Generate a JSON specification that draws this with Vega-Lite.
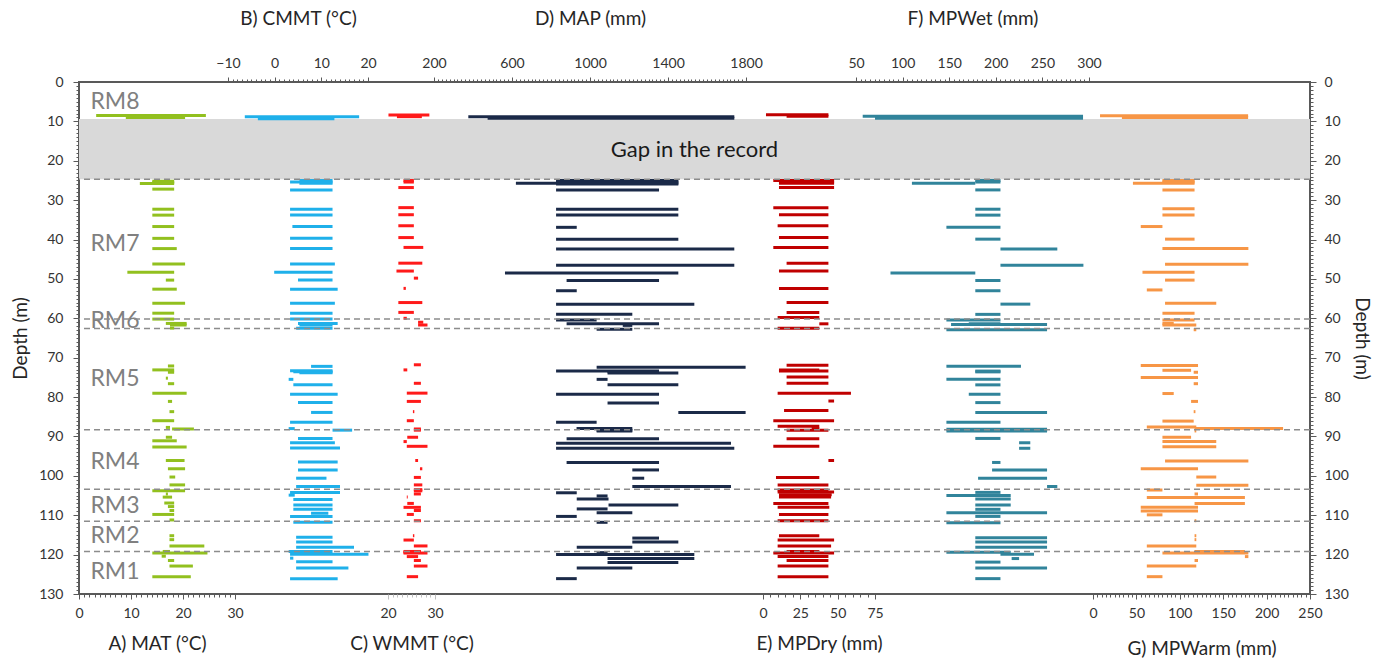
{
  "$schema": "https://vega.github.io/schema/vega-lite/v6.json",
  "width": 1231,
  "height": 512,
  "autosize": {"type": "none"},
  "padding": {"left": 79, "top": 82, "right": 64, "bottom": 65},
  "config": {
    "view": {"stroke": "#595959", "strokeWidth": 2},
    "font": "Lato",
    "axis": {
      "labelFont": "Lato", "titleFont": "Lato", "labelFontSize": 14, "titleFontSize": 19,
      "labelColor": "#333333", "titleColor": "#262626", "titleFontWeight": "normal",
      "grid": false, "domain": false, "tickColor": "#595959", "labelOverlap": false,
      "labelFlush": false, "labelBound": false, "format": "d"
    }
  },
  "datasets": {
    "MAT": [
      {"d": 8.5, "lo": 3.3, "hi": 24.4}, {"d": 9.0, "lo": 9.0, "hi": 20.4},
      {"d": 25.2, "lo": 14.1, "hi": 18.3}, {"d": 25.5, "lo": 14.1, "hi": 18.3}, {"d": 25.8, "lo": 11.7, "hi": 18.3},
      {"d": 27.2, "lo": 14.1, "hi": 18.3}, {"d": 32.3, "lo": 14.1, "hi": 18.3}, {"d": 33.8, "lo": 14.1, "hi": 18.3},
      {"d": 36.7, "lo": 14.1, "hi": 18.3}, {"d": 39.7, "lo": 14.1, "hi": 18.3}, {"d": 42.3, "lo": 14.1, "hi": 18.8},
      {"d": 46.2, "lo": 14.1, "hi": 20.4}, {"d": 48.3, "lo": 9.3, "hi": 18.3}, {"d": 50.3, "lo": 16.7, "hi": 18.3},
      {"d": 52.6, "lo": 14.1, "hi": 18.8}, {"d": 56.2, "lo": 14.1, "hi": 20.4}, {"d": 58.7, "lo": 14.1, "hi": 18.3},
      {"d": 60.2, "lo": 14.1, "hi": 18.3}, {"d": 61.3, "lo": 16.7, "hi": 20.7}, {"d": 61.7, "lo": 17.5, "hi": 20.7},
      {"d": 62.5, "lo": 17.5, "hi": 18.3},
      {"d": 72.1, "lo": 17.1, "hi": 18.3}, {"d": 73.1, "lo": 14.1, "hi": 18.3}, {"d": 73.7, "lo": 17.1, "hi": 18.3},
      {"d": 75.2, "lo": 16.7, "hi": 17.1}, {"d": 76.6, "lo": 17.1, "hi": 18.3}, {"d": 79.0, "lo": 14.1, "hi": 20.7},
      {"d": 81.1, "lo": 17.1, "hi": 17.9}, {"d": 83.7, "lo": 17.4, "hi": 18.3}, {"d": 86.0, "lo": 14.1, "hi": 18.3},
      {"d": 87.7, "lo": 16.7, "hi": 17.5}, {"d": 88.1, "lo": 17.9, "hi": 22.1}, {"d": 90.2, "lo": 16.7, "hi": 17.9},
      {"d": 91.1, "lo": 14.1, "hi": 18.8}, {"d": 92.7, "lo": 14.1, "hi": 20.7}, {"d": 96.1, "lo": 16.7, "hi": 20.3},
      {"d": 98.2, "lo": 17.1, "hi": 20.4}, {"d": 100.3, "lo": 17.4, "hi": 18.5}, {"d": 102.3, "lo": 17.4, "hi": 20.4},
      {"d": 103.8, "lo": 14.1, "hi": 20.4}, {"d": 104.6, "lo": 16.7, "hi": 17.1}, {"d": 105.4, "lo": 16.1, "hi": 17.9},
      {"d": 106.9, "lo": 16.4, "hi": 18.3}, {"d": 107.8, "lo": 17.1, "hi": 18.3}, {"d": 108.8, "lo": 17.4, "hi": 18.3},
      {"d": 109.8, "lo": 14.1, "hi": 18.3}, {"d": 111.2, "lo": 17.4, "hi": 18.3}, {"d": 115.2, "lo": 17.4, "hi": 18.3},
      {"d": 116.2, "lo": 17.4, "hi": 18.3}, {"d": 117.8, "lo": 17.4, "hi": 24.1}, {"d": 119.2, "lo": 16.1, "hi": 17.5},
      {"d": 119.6, "lo": 14.1, "hi": 24.7}, {"d": 120.4, "lo": 15.9, "hi": 16.7}, {"d": 121.5, "lo": 17.1, "hi": 18.3},
      {"d": 122.9, "lo": 17.4, "hi": 21.9}, {"d": 125.6, "lo": 14.1, "hi": 21.5}
    ],
    "CMMT": [
      {"d": 8.8, "lo": -6.4, "hi": 18.1}, {"d": 9.3, "lo": -3.6, "hi": 12.8},
      {"d": 25.0, "lo": 5.3, "hi": 12.4}, {"d": 25.4, "lo": 3.3, "hi": 12.4}, {"d": 25.7, "lo": 5.3, "hi": 12.4},
      {"d": 27.4, "lo": 3.3, "hi": 12.4}, {"d": 32.3, "lo": 3.3, "hi": 12.4}, {"d": 33.8, "lo": 3.3, "hi": 12.4},
      {"d": 36.7, "lo": 3.8, "hi": 12.4}, {"d": 39.7, "lo": 3.3, "hi": 12.4}, {"d": 42.3, "lo": 3.3, "hi": 12.4},
      {"d": 46.2, "lo": 3.3, "hi": 12.9}, {"d": 48.3, "lo": -0.1, "hi": 12.4}, {"d": 50.3, "lo": 5.0, "hi": 12.4},
      {"d": 52.6, "lo": 3.3, "hi": 13.5}, {"d": 56.2, "lo": 3.3, "hi": 12.9}, {"d": 58.7, "lo": 3.3, "hi": 12.4},
      {"d": 60.2, "lo": 3.3, "hi": 12.4}, {"d": 61.3, "lo": 5.0, "hi": 13.5}, {"d": 61.7, "lo": 5.3, "hi": 12.4},
      {"d": 62.5, "lo": 4.6, "hi": 12.4},
      {"d": 72.2, "lo": 7.8, "hi": 12.4}, {"d": 73.3, "lo": 3.3, "hi": 12.4}, {"d": 73.6, "lo": 4.0, "hi": 12.4},
      {"d": 73.8, "lo": 5.3, "hi": 12.4}, {"d": 75.5, "lo": 3.0, "hi": 4.0}, {"d": 76.9, "lo": 4.0, "hi": 12.4},
      {"d": 79.3, "lo": 3.3, "hi": 13.5}, {"d": 81.4, "lo": 5.0, "hi": 12.4}, {"d": 83.9, "lo": 7.8, "hi": 12.4},
      {"d": 86.4, "lo": 3.3, "hi": 12.4}, {"d": 88.0, "lo": 3.0, "hi": 4.3}, {"d": 88.4, "lo": 12.4, "hi": 16.6},
      {"d": 90.5, "lo": 5.0, "hi": 12.4}, {"d": 91.6, "lo": 3.3, "hi": 12.9}, {"d": 92.9, "lo": 3.3, "hi": 14.0},
      {"d": 96.5, "lo": 5.0, "hi": 13.5}, {"d": 98.5, "lo": 5.0, "hi": 13.5}, {"d": 100.6, "lo": 4.6, "hi": 11.1},
      {"d": 102.7, "lo": 4.6, "hi": 14.0}, {"d": 104.2, "lo": 3.3, "hi": 14.0}, {"d": 104.9, "lo": 3.0, "hi": 4.3},
      {"d": 106.0, "lo": 4.0, "hi": 12.4}, {"d": 107.4, "lo": 4.0, "hi": 12.4}, {"d": 108.5, "lo": 4.0, "hi": 12.4},
      {"d": 109.5, "lo": 7.8, "hi": 11.5}, {"d": 110.3, "lo": 3.3, "hi": 12.4}, {"d": 111.8, "lo": 4.0, "hi": 12.4},
      {"d": 115.6, "lo": 4.6, "hi": 12.4}, {"d": 116.8, "lo": 4.6, "hi": 12.4}, {"d": 118.1, "lo": 4.6, "hi": 17.0},
      {"d": 119.2, "lo": 3.0, "hi": 12.4}, {"d": 119.9, "lo": 3.3, "hi": 20.1}, {"d": 120.9, "lo": 3.3, "hi": 4.0},
      {"d": 121.8, "lo": 4.6, "hi": 12.4}, {"d": 123.4, "lo": 4.6, "hi": 15.8}, {"d": 126.1, "lo": 3.3, "hi": 13.5}
    ],
    "WMMT": [
      {"d": 8.4, "lo": 20.1, "hi": 28.8}, {"d": 8.8, "lo": 21.9, "hi": 27.2},
      {"d": 25.0, "lo": 23.3, "hi": 25.5}, {"d": 25.4, "lo": 23.3, "hi": 25.5}, {"d": 26.8, "lo": 22.2, "hi": 25.5},
      {"d": 31.9, "lo": 22.2, "hi": 25.5}, {"d": 33.7, "lo": 22.2, "hi": 25.5}, {"d": 36.5, "lo": 22.2, "hi": 25.5},
      {"d": 39.5, "lo": 22.2, "hi": 25.5}, {"d": 42.0, "lo": 23.3, "hi": 27.5}, {"d": 46.0, "lo": 22.2, "hi": 27.3},
      {"d": 48.0, "lo": 21.8, "hi": 25.5}, {"d": 49.8, "lo": 25.5, "hi": 26.4}, {"d": 52.4, "lo": 23.3, "hi": 23.8},
      {"d": 56.0, "lo": 22.2, "hi": 27.3}, {"d": 58.5, "lo": 22.2, "hi": 25.5}, {"d": 60.0, "lo": 23.3, "hi": 24.0},
      {"d": 61.0, "lo": 26.4, "hi": 27.5}, {"d": 61.7, "lo": 26.4, "hi": 28.4},
      {"d": 71.8, "lo": 25.5, "hi": 27.0}, {"d": 73.1, "lo": 23.3, "hi": 24.1}, {"d": 76.5, "lo": 25.5, "hi": 27.0},
      {"d": 79.0, "lo": 24.0, "hi": 28.4}, {"d": 81.1, "lo": 24.0, "hi": 27.0}, {"d": 83.7, "lo": 25.3, "hi": 25.6},
      {"d": 86.0, "lo": 24.0, "hi": 25.5}, {"d": 88.1, "lo": 25.5, "hi": 27.0}, {"d": 88.4, "lo": 25.5, "hi": 27.0},
      {"d": 90.2, "lo": 24.1, "hi": 26.4}, {"d": 91.3, "lo": 23.3, "hi": 24.0}, {"d": 92.5, "lo": 24.0, "hi": 28.4},
      {"d": 96.1, "lo": 25.8, "hi": 26.4}, {"d": 98.2, "lo": 26.8, "hi": 27.3}, {"d": 100.4, "lo": 25.5, "hi": 27.0},
      {"d": 102.3, "lo": 25.5, "hi": 27.3}, {"d": 103.5, "lo": 25.5, "hi": 27.3}, {"d": 103.8, "lo": 25.5, "hi": 27.3},
      {"d": 104.6, "lo": 25.5, "hi": 27.0}, {"d": 105.4, "lo": 24.0, "hi": 24.2}, {"d": 107.0, "lo": 24.1, "hi": 25.5},
      {"d": 108.0, "lo": 23.3, "hi": 27.0}, {"d": 108.8, "lo": 25.5, "hi": 27.0}, {"d": 109.8, "lo": 24.0, "hi": 25.5},
      {"d": 111.4, "lo": 25.5, "hi": 27.0}, {"d": 115.2, "lo": 25.3, "hi": 25.6}, {"d": 116.3, "lo": 23.3, "hi": 25.5},
      {"d": 117.8, "lo": 25.5, "hi": 28.4}, {"d": 119.2, "lo": 23.3, "hi": 27.0}, {"d": 119.4, "lo": 23.3, "hi": 27.0},
      {"d": 119.6, "lo": 23.3, "hi": 28.4}, {"d": 120.5, "lo": 24.0, "hi": 26.4}, {"d": 121.5, "lo": 25.5, "hi": 27.0},
      {"d": 122.9, "lo": 25.5, "hi": 28.4}, {"d": 125.6, "lo": 24.0, "hi": 26.4}
    ],
    "MAP": [
      {"d": 8.8, "lo": 376, "hi": 1740}, {"d": 9.2, "lo": 475, "hi": 1740},
      {"d": 25.0, "lo": 826, "hi": 1453}, {"d": 25.4, "lo": 826, "hi": 1453}, {"d": 25.7, "lo": 620, "hi": 1453},
      {"d": 25.9, "lo": 826, "hi": 1453},
      {"d": 27.4, "lo": 826, "hi": 1354}, {"d": 32.3, "lo": 826, "hi": 1453}, {"d": 33.8, "lo": 826, "hi": 1453},
      {"d": 36.9, "lo": 826, "hi": 932}, {"d": 39.9, "lo": 826, "hi": 1453}, {"d": 42.4, "lo": 826, "hi": 1740},
      {"d": 46.5, "lo": 826, "hi": 1740}, {"d": 48.5, "lo": 564, "hi": 1453}, {"d": 50.4, "lo": 880, "hi": 1354},
      {"d": 53.0, "lo": 826, "hi": 932}, {"d": 56.4, "lo": 826, "hi": 1535}, {"d": 59.0, "lo": 826, "hi": 1217},
      {"d": 60.4, "lo": 826, "hi": 1034}, {"d": 61.4, "lo": 880, "hi": 1354}, {"d": 61.8, "lo": 1168, "hi": 1217},
      {"d": 62.8, "lo": 1034, "hi": 1217},
      {"d": 72.4, "lo": 1034, "hi": 1798}, {"d": 73.4, "lo": 826, "hi": 1354}, {"d": 73.6, "lo": 1090, "hi": 1354},
      {"d": 73.9, "lo": 1090, "hi": 1453}, {"d": 75.5, "lo": 1034, "hi": 1090}, {"d": 76.9, "lo": 1090, "hi": 1453},
      {"d": 79.3, "lo": 826, "hi": 1354}, {"d": 81.5, "lo": 1090, "hi": 1354}, {"d": 83.9, "lo": 1453, "hi": 1798},
      {"d": 86.4, "lo": 826, "hi": 1034}, {"d": 88.0, "lo": 931, "hi": 1217}, {"d": 88.4, "lo": 1034, "hi": 1217},
      {"d": 88.6, "lo": 1034, "hi": 1217}, {"d": 90.6, "lo": 880, "hi": 1354}, {"d": 91.7, "lo": 826, "hi": 1723},
      {"d": 93.0, "lo": 826, "hi": 1740}, {"d": 96.6, "lo": 880, "hi": 1354}, {"d": 98.5, "lo": 1217, "hi": 1354},
      {"d": 100.6, "lo": 1217, "hi": 1278}, {"d": 102.7, "lo": 1217, "hi": 1723}, {"d": 104.3, "lo": 826, "hi": 932},
      {"d": 105.1, "lo": 1034, "hi": 1090}, {"d": 105.9, "lo": 932, "hi": 1095}, {"d": 107.4, "lo": 1095, "hi": 1453},
      {"d": 108.4, "lo": 932, "hi": 1090}, {"d": 109.4, "lo": 1034, "hi": 1217}, {"d": 110.3, "lo": 826, "hi": 932},
      {"d": 111.8, "lo": 1034, "hi": 1090}, {"d": 115.8, "lo": 1217, "hi": 1354}, {"d": 116.8, "lo": 1217, "hi": 1453},
      {"d": 118.1, "lo": 932, "hi": 1217}, {"d": 119.5, "lo": 1034, "hi": 1090}, {"d": 120.0, "lo": 826, "hi": 1535},
      {"d": 121.0, "lo": 1090, "hi": 1535}, {"d": 122.0, "lo": 1090, "hi": 1453}, {"d": 123.4, "lo": 932, "hi": 1217},
      {"d": 126.1, "lo": 826, "hi": 932}
    ],
    "MPDry": [
      {"d": 8.3, "lo": 2.0, "hi": 43.8}, {"d": 8.7, "lo": 15.8, "hi": 43.8},
      {"d": 25.0, "lo": 6.9, "hi": 47.6}, {"d": 25.4, "lo": 10.7, "hi": 47.6}, {"d": 25.7, "lo": 10.7, "hi": 47.6},
      {"d": 26.8, "lo": 10.7, "hi": 47.6}, {"d": 31.9, "lo": 6.9, "hi": 43.8}, {"d": 33.7, "lo": 10.7, "hi": 43.8},
      {"d": 36.5, "lo": 9.8, "hi": 43.8}, {"d": 39.5, "lo": 10.7, "hi": 43.8}, {"d": 42.0, "lo": 6.9, "hi": 43.8},
      {"d": 46.0, "lo": 15.8, "hi": 43.8}, {"d": 48.0, "lo": 10.7, "hi": 43.8}, {"d": 52.4, "lo": 10.7, "hi": 43.8},
      {"d": 56.0, "lo": 15.8, "hi": 43.8}, {"d": 58.5, "lo": 15.8, "hi": 37.7}, {"d": 59.8, "lo": 9.8, "hi": 37.7},
      {"d": 61.4, "lo": 37.7, "hi": 43.8}, {"d": 62.5, "lo": 9.8, "hi": 37.7},
      {"d": 71.9, "lo": 15.8, "hi": 43.8}, {"d": 73.1, "lo": 10.7, "hi": 37.7}, {"d": 73.4, "lo": 10.7, "hi": 43.8},
      {"d": 74.9, "lo": 15.8, "hi": 43.8}, {"d": 76.5, "lo": 15.8, "hi": 43.8}, {"d": 79.0, "lo": 9.8, "hi": 58.9},
      {"d": 81.0, "lo": 43.8, "hi": 47.6}, {"d": 83.4, "lo": 14.1, "hi": 43.8}, {"d": 86.0, "lo": 6.9, "hi": 47.6},
      {"d": 87.4, "lo": 9.8, "hi": 37.7}, {"d": 88.0, "lo": 32.6, "hi": 37.7}, {"d": 88.4, "lo": 15.8, "hi": 43.8},
      {"d": 90.6, "lo": 15.8, "hi": 37.7}, {"d": 92.5, "lo": 6.9, "hi": 37.7}, {"d": 96.1, "lo": 43.8, "hi": 47.6},
      {"d": 100.4, "lo": 8.7, "hi": 37.7}, {"d": 102.3, "lo": 9.8, "hi": 43.8}, {"d": 103.6, "lo": 9.8, "hi": 43.8},
      {"d": 104.1, "lo": 9.8, "hi": 47.6}, {"d": 104.8, "lo": 10.7, "hi": 46.0}, {"d": 105.4, "lo": 10.7, "hi": 45.6},
      {"d": 107.0, "lo": 6.9, "hi": 43.8}, {"d": 108.0, "lo": 9.8, "hi": 44.4}, {"d": 109.8, "lo": 10.7, "hi": 43.8},
      {"d": 111.4, "lo": 9.8, "hi": 43.8}, {"d": 115.2, "lo": 10.7, "hi": 37.7}, {"d": 116.3, "lo": 9.8, "hi": 47.6},
      {"d": 117.8, "lo": 9.8, "hi": 45.6}, {"d": 119.2, "lo": 15.8, "hi": 37.7}, {"d": 119.6, "lo": 6.9, "hi": 47.6},
      {"d": 120.5, "lo": 9.8, "hi": 43.8}, {"d": 121.5, "lo": 15.8, "hi": 43.8}, {"d": 122.9, "lo": 9.8, "hi": 43.8},
      {"d": 125.6, "lo": 9.8, "hi": 43.8}
    ],
    "MPWet": [
      {"d": 8.7, "lo": 57.2, "hi": 293.6}, {"d": 9.2, "lo": 70.4, "hi": 293.6},
      {"d": 25.0, "lo": 178, "hi": 205}, {"d": 25.4, "lo": 178, "hi": 205}, {"d": 25.7, "lo": 110, "hi": 178},
      {"d": 27.4, "lo": 178, "hi": 205}, {"d": 32.3, "lo": 178, "hi": 205}, {"d": 33.8, "lo": 178, "hi": 205},
      {"d": 36.9, "lo": 147, "hi": 205}, {"d": 39.9, "lo": 178, "hi": 205}, {"d": 42.4, "lo": 205, "hi": 266},
      {"d": 46.5, "lo": 205, "hi": 294}, {"d": 48.5, "lo": 87, "hi": 178}, {"d": 50.4, "lo": 178, "hi": 205},
      {"d": 53.0, "lo": 178, "hi": 205}, {"d": 56.4, "lo": 205, "hi": 237}, {"d": 59.0, "lo": 178, "hi": 205},
      {"d": 60.4, "lo": 147, "hi": 205}, {"d": 61.4, "lo": 171, "hi": 205}, {"d": 61.6, "lo": 152, "hi": 255},
      {"d": 62.9, "lo": 147, "hi": 255},
      {"d": 72.2, "lo": 147, "hi": 227}, {"d": 73.4, "lo": 178, "hi": 205}, {"d": 73.6, "lo": 178, "hi": 205},
      {"d": 75.5, "lo": 147, "hi": 205}, {"d": 76.9, "lo": 178, "hi": 205}, {"d": 79.3, "lo": 171, "hi": 205},
      {"d": 81.4, "lo": 178, "hi": 205}, {"d": 83.9, "lo": 178, "hi": 255}, {"d": 86.4, "lo": 147, "hi": 205},
      {"d": 88.2, "lo": 147, "hi": 255}, {"d": 88.4, "lo": 178, "hi": 255}, {"d": 88.6, "lo": 147, "hi": 255},
      {"d": 90.5, "lo": 178, "hi": 205}, {"d": 91.6, "lo": 225, "hi": 237}, {"d": 93.0, "lo": 225, "hi": 237},
      {"d": 96.6, "lo": 196, "hi": 205}, {"d": 98.5, "lo": 196, "hi": 255}, {"d": 100.6, "lo": 181, "hi": 255},
      {"d": 102.7, "lo": 255, "hi": 266}, {"d": 104.2, "lo": 178, "hi": 205}, {"d": 105.0, "lo": 147, "hi": 216},
      {"d": 105.9, "lo": 178, "hi": 216}, {"d": 107.4, "lo": 178, "hi": 216}, {"d": 108.5, "lo": 178, "hi": 205},
      {"d": 109.4, "lo": 147, "hi": 255}, {"d": 110.3, "lo": 178, "hi": 205}, {"d": 111.9, "lo": 147, "hi": 205},
      {"d": 115.7, "lo": 178, "hi": 255}, {"d": 116.8, "lo": 178, "hi": 255}, {"d": 118.1, "lo": 178, "hi": 255},
      {"d": 119.4, "lo": 147, "hi": 216}, {"d": 119.9, "lo": 205, "hi": 241}, {"d": 121.0, "lo": 217, "hi": 225},
      {"d": 121.9, "lo": 178, "hi": 205}, {"d": 123.4, "lo": 178, "hi": 255}, {"d": 126.1, "lo": 178, "hi": 205}
    ],
    "MPWarm": [
      {"d": 8.6, "lo": 8.1, "hi": 178.7}, {"d": 9.0, "lo": 33.3, "hi": 178.7},
      {"d": 25.0, "lo": 80, "hi": 117}, {"d": 25.4, "lo": 80, "hi": 117}, {"d": 25.7, "lo": 46, "hi": 117},
      {"d": 27.4, "lo": 80, "hi": 117}, {"d": 32.2, "lo": 80, "hi": 117}, {"d": 33.8, "lo": 80, "hi": 117},
      {"d": 36.7, "lo": 55, "hi": 80}, {"d": 39.9, "lo": 83, "hi": 117}, {"d": 42.3, "lo": 80, "hi": 179},
      {"d": 46.3, "lo": 83, "hi": 179}, {"d": 48.3, "lo": 57, "hi": 117}, {"d": 50.3, "lo": 83, "hi": 117},
      {"d": 52.8, "lo": 62, "hi": 80}, {"d": 56.2, "lo": 83, "hi": 142}, {"d": 58.7, "lo": 80, "hi": 117},
      {"d": 60.4, "lo": 80, "hi": 117}, {"d": 61.3, "lo": 80, "hi": 93}, {"d": 61.7, "lo": 80, "hi": 119},
      {"d": 62.9, "lo": 116, "hi": 119},
      {"d": 72.0, "lo": 55, "hi": 121}, {"d": 73.2, "lo": 80, "hi": 113}, {"d": 73.7, "lo": 116, "hi": 121},
      {"d": 75.0, "lo": 55, "hi": 121}, {"d": 76.6, "lo": 116, "hi": 121}, {"d": 79.1, "lo": 80, "hi": 93},
      {"d": 81.1, "lo": 113, "hi": 121}, {"d": 83.7, "lo": 116, "hi": 118}, {"d": 86.1, "lo": 80, "hi": 116},
      {"d": 87.6, "lo": 62, "hi": 119}, {"d": 88.0, "lo": 117, "hi": 219}, {"d": 88.6, "lo": 117, "hi": 119},
      {"d": 90.2, "lo": 80, "hi": 113}, {"d": 91.3, "lo": 80, "hi": 142}, {"d": 92.6, "lo": 80, "hi": 142},
      {"d": 96.2, "lo": 83, "hi": 179}, {"d": 98.2, "lo": 55, "hi": 121}, {"d": 100.3, "lo": 119, "hi": 142},
      {"d": 102.4, "lo": 119, "hi": 179}, {"d": 103.6, "lo": 62, "hi": 80}, {"d": 104.6, "lo": 117, "hi": 121},
      {"d": 105.5, "lo": 62, "hi": 175}, {"d": 107.0, "lo": 117, "hi": 175}, {"d": 108.0, "lo": 55, "hi": 121},
      {"d": 108.9, "lo": 55, "hi": 121}, {"d": 109.9, "lo": 62, "hi": 80}, {"d": 111.4, "lo": 117, "hi": 119},
      {"d": 115.2, "lo": 117, "hi": 119}, {"d": 116.2, "lo": 117, "hi": 119}, {"d": 117.8, "lo": 62, "hi": 119},
      {"d": 119.2, "lo": 117, "hi": 175}, {"d": 119.6, "lo": 80, "hi": 179}, {"d": 120.5, "lo": 175, "hi": 179},
      {"d": 121.5, "lo": 117, "hi": 121}, {"d": 122.9, "lo": 62, "hi": 119}, {"d": 125.6, "lo": 62, "hi": 80}
    ]
  },
  "resolve": {"scale": {"x": "independent"}, "axis": {"x": "independent", "y": "independent"}},
  "layer": [
    {
      "data": {"values": [{"top": 9.4, "bottom": 24.7}]},
      "mark": {"type": "rect", "color": "#d9d9d9"},
      "encoding": {
        "y": {"field": "top", "type": "quantitative",
          "scale": {"domain": [0, 130], "reverse": true, "nice": false, "zero": false},
          "axis": {"orient": "left", "title": "Depth (m)", "tickCount": 130,
            "labelExpr": "datum.value % 10 === 0 ? datum.label : ''",
            "tickSize": {"condition": {"test": "datum.value % 10 === 0", "value": 6}, "value": 3},
            "labelPadding": 10, "titlePadding": 8}},
        "y2": {"field": "bottom"}
      }
    },
    {
      "data": {"values": [{"label": "Gap in the record", "d": 17.3}]},
      "mark": {"type": "text", "fontSize": 22, "color": "#1a1a1a", "baseline": "middle", "font": "Lato"},
      "encoding": {"y": {"field": "d", "type": "quantitative", "axis": null}, "text": {"field": "label"}}
    },
    {
      "data": {"values": [
        {"label": "RM8", "d": 5.0}, {"label": "RM7", "d": 41.2}, {"label": "RM6", "d": 60.6},
        {"label": "RM5", "d": 75.5}, {"label": "RM4", "d": 96.6}, {"label": "RM3", "d": 107.6},
        {"label": "RM2", "d": 115.3}, {"label": "RM1", "d": 124.3}
      ]},
      "mark": {"type": "text", "fontSize": 23, "color": "#808080", "align": "left", "baseline": "middle", "font": "Lato"},
      "encoding": {
        "y": {"field": "d", "type": "quantitative", "axis": null},
        "x": {"datum": 2.2, "type": "quantitative", "scale": {"domain": [0, 30], "range": [0, 156], "nice": false, "zero": false}, "axis": null},
        "text": {"field": "label"}
      }
    },
    {
      "data": {"name": "MAT"},
      "mark": {"type": "rule", "color": "#92c01f", "strokeWidth": 3},
      "encoding": {
        "y": {"field": "d", "type": "quantitative", "axis": null},
        "x": {"field": "lo", "type": "quantitative", "scale": {"domain": [0, 30], "range": [0, 156], "nice": false, "zero": false},
          "axis": {"orient": "bottom", "title": "A) MAT (°C)", "tickCount": 30,
            "labelExpr": "datum.value % 10 === 0 ? datum.label : ''",
            "tickSize": {"condition": {"test": "datum.value % 10 === 0", "value": 5}, "value": 3},
            "labelPadding": 7, "titlePadding": 14}},
        "x2": {"field": "hi"}
      }
    },
    {
      "data": {"name": "CMMT"},
      "mark": {"type": "rule", "color": "#1fb0ea", "strokeWidth": 3},
      "encoding": {
        "y": {"field": "d", "type": "quantitative", "axis": null},
        "x": {"field": "lo", "type": "quantitative", "scale": {"domain": [-10, 20], "range": [149, 289], "nice": false, "zero": false},
          "axis": {"orient": "top", "title": "B) CMMT (°C)", "tickCount": 30,
            "labelExpr": "datum.value % 10 === 0 ? datum.label : ''",
            "tickSize": {"condition": {"test": "datum.value % 10 === 0", "value": 5}, "value": 3},
            "labelPadding": 7, "titlePadding": 28}},
        "x2": {"field": "hi"}
      }
    },
    {
      "data": {"name": "WMMT"},
      "mark": {"type": "rule", "color": "#ff1a1a", "strokeWidth": 3},
      "encoding": {
        "y": {"field": "d", "type": "quantitative", "axis": null},
        "x": {"field": "lo", "type": "quantitative", "scale": {"domain": [20, 30], "range": [309, 356], "nice": false, "zero": false},
          "axis": {"orient": "bottom", "title": "C) WMMT (°C)", "tickCount": 10, "tickColor": "#bfbfbf",
            "labelExpr": "datum.value % 10 === 0 ? datum.label : ''",
            "tickSize": {"condition": {"test": "datum.value % 10 === 0", "value": 5}, "value": 3},
            "labelPadding": 7, "titlePadding": 14}},
        "x2": {"field": "hi"}
      }
    },
    {
      "data": {"name": "MAP"},
      "mark": {"type": "rule", "color": "#1b2a48", "strokeWidth": 3},
      "encoding": {
        "y": {"field": "d", "type": "quantitative", "axis": null},
        "x": {"field": "lo", "type": "quantitative", "scale": {"domain": [200, 1800], "range": [355, 667], "nice": false, "zero": false},
          "axis": {"orient": "top", "title": "D) MAP (mm)", "tickCount": 80,
            "labelExpr": "(datum.value - 200) % 400 === 0 ? datum.label : ''",
            "tickSize": {"condition": {"test": "(datum.value - 200) % 400 === 0", "value": 5}, "value": 3},
            "labelPadding": 7, "titlePadding": 28}},
        "x2": {"field": "hi"}
      }
    },
    {
      "data": {"name": "MPDry"},
      "mark": {"type": "rule", "color": "#c00000", "strokeWidth": 3},
      "encoding": {
        "y": {"field": "d", "type": "quantitative", "axis": null},
        "x": {"field": "lo", "type": "quantitative", "scale": {"domain": [0, 75], "range": [684, 796], "nice": false, "zero": false},
          "axis": {"orient": "bottom", "title": "E) MPDry (mm)", "tickCount": 15,
            "labelExpr": "datum.value % 25 === 0 ? datum.label : ''",
            "tickSize": {"condition": {"test": "datum.value % 25 === 0", "value": 5}, "value": 3},
            "labelPadding": 7, "titlePadding": 14}},
        "x2": {"field": "hi"}
      }
    },
    {
      "data": {"name": "MPWet"},
      "mark": {"type": "rule", "color": "#31849b", "strokeWidth": 3},
      "encoding": {
        "y": {"field": "d", "type": "quantitative", "axis": null},
        "x": {"field": "lo", "type": "quantitative", "scale": {"domain": [50, 300], "range": [777, 1010], "nice": false, "zero": false},
          "axis": {"orient": "top", "title": "F) MPWet (mm)", "tickCount": 50,
            "labelExpr": "datum.value % 50 === 0 ? datum.label : ''",
            "tickSize": {"condition": {"test": "datum.value % 50 === 0", "value": 5}, "value": 3},
            "labelPadding": 7, "titlePadding": 28}},
        "x2": {"field": "hi"}
      }
    },
    {
      "data": {"name": "MPWarm"},
      "mark": {"type": "rule", "color": "#f79646", "strokeWidth": 3},
      "encoding": {
        "y": {"field": "d", "type": "quantitative", "axis": null},
        "x": {"field": "lo", "type": "quantitative", "scale": {"domain": [0, 250], "range": [1014, 1231], "nice": false, "zero": false},
          "axis": {"orient": "bottom", "title": "G) MPWarm (mm)", "tickCount": 50,
            "labelExpr": "datum.value % 50 === 0 ? datum.label : ''",
            "tickSize": {"condition": {"test": "datum.value % 50 === 0", "value": 5}, "value": 3},
            "labelPadding": 7, "titlePadding": 19}},
        "x2": {"field": "hi"}
      }
    },
    {
      "data": {"values": [{"d": 24.7}, {"d": 60.2}, {"d": 62.6}, {"d": 88.3}, {"d": 103.4}, {"d": 111.5}, {"d": 119.2}]},
      "mark": {"type": "rule", "color": "#8c8c8c", "strokeWidth": 1.5, "strokeDash": [6, 4]},
      "encoding": {
        "y": {"field": "d", "type": "quantitative",
          "axis": {"orient": "right", "title": "Depth (m)", "tickCount": 130,
            "labelExpr": "datum.value % 10 === 0 ? datum.label : ''",
            "tickSize": {"condition": {"test": "datum.value % 10 === 0", "value": 6}, "value": 3},
            "labelPadding": 8, "titlePadding": 3}}
      }
    }
  ]
}
